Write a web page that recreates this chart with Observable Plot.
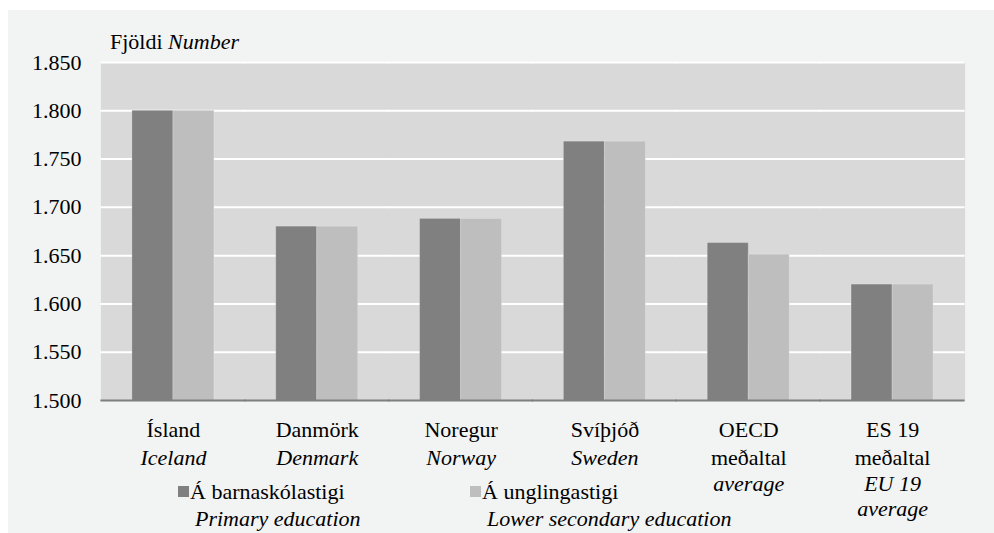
<!DOCTYPE html>
<html>
<head>
<meta charset="utf-8">
<script src="https://cdn.jsdelivr.net/npm/d3@7"></script>
<script src="https://cdn.jsdelivr.net/npm/@observablehq/plot@0.6"></script>
<style>
  html, body { margin: 0; padding: 0; background: #ffffff; }
  #wrap { position: relative; width: 994px; height: 533px; overflow: hidden; font-family: 'Liberation Serif', Tinos, 'Times New Roman', Times, 'Noto Serif', 'DejaVu Serif', FreeSerif, serif; color: #000; }
  #panel { position: absolute; left: 8px; top: 10px; right: 0; bottom: 0; background: #f2f3f3; }
  #chart { position: absolute; left: 0; top: 0; }
  .lbl { position: absolute; font-size: 22px; line-height: 22px; white-space: nowrap; }
  .sw { position: absolute; width: 11px; height: 11px; }
</style>
</head>
<body>
<div id="wrap">
  <div id="panel"></div>
  <div id="chart"></div>
  <div class="lbl" style="left:110px; top:31px;">Fjöldi <i>Number</i></div>
  <div id="legend"></div>
</div>
<script>
// ---- data ----
const categoriesIs = ["Ísland", "Danmörk", "Noregur", "Svíþjóð", "OECD\nmeðaltal", "ES 19\nmeðaltal"];
const categoriesEn = ["Iceland", "Denmark", "Norway", "Sweden", "average", "EU 19\naverage"];
const seriesIs = ["Á barnaskólastigi", "Á unglingastigi"];
const seriesEn = ["Primary education", "Lower secondary education"];
const primary = [1800, 1680, 1688, 1768, 1663, 1620];
const lowerSecondary = [1800, 1680, 1688, 1768, 1651, 1620];
const yTicks = [1500, 1550, 1600, 1650, 1700, 1750, 1800, 1850];
const colors = ["#808080", "#bebebe"];

// ---- build table ----
const rows = [];
categoriesIs.forEach((c, i) => {
  rows.push({cat: c, series: seriesIs[0], value: primary[i]});
  rows.push({cat: c, series: seriesIs[1], value: lowerSecondary[i]});
});

const labelLines = [];
categoriesIs.forEach((c, i) => {
  const isL = c.split("\n");
  const enL = categoriesEn[i].split("\n");
  isL.forEach((t, k) => labelLines.push({cat: c, text: t, line: k, italic: false}));
  enL.forEach((t, k) => labelLines.push({cat: c, text: t, line: isL.length + k, italic: true}));
});
const lineOffsets = [29, 57, 83, 108];

const loc = d3.formatLocale({decimal: ",", thousands: ".", grouping: [3], currency: ["", ""]});
const fmt = loc.format(",");

const FONT = "'Liberation Serif', Tinos, 'Times New Roman', Times, 'Noto Serif', 'DejaVu Serif', FreeSerif, serif";

const labelMarks = [];
for (let L = 0; L < 4; ++L) {
  for (const it of [false, true]) {
    const d = labelLines.filter(r => r.line === L && r.italic === it);
    if (!d.length) continue;
    labelMarks.push(Plot.text(d, {
      fx: "cat", text: "text", frameAnchor: "bottom", dy: lineOffsets[L],
      lineAnchor: "middle", fontSize: 22, fill: "#000", fontFamily: FONT,
      fontStyle: it ? "italic" : "normal"
    }));
  }
}

const chart = Plot.plot({
  width: 994,
  height: 533,
  marginLeft: 101,
  marginRight: 30,
  marginTop: 62,
  marginBottom: 133,
  style: {fontFamily: FONT, fontSize: "22px", background: "transparent", color: "#000", overflow: "visible"},
  fx: {domain: categoriesIs, padding: 0, round: false, axis: null, label: null},
  x: {domain: seriesIs, paddingInner: 0, paddingOuter: 0.754, round: false, axis: null, label: null},
  y: {domain: [1500, 1850], axis: null, label: null},
  color: {domain: seriesIs, range: colors},
  marks: [
    Plot.frame({fill: "#d9d9d9", stroke: null, inset: -0.6}),
    Plot.ruleY(yTicks.filter(v => v > yTicks[0]), {stroke: "#ffffff", strokeWidth: 2, insetLeft: -0.6, insetRight: -0.6}),
    Plot.barY(rows, {fx: "cat", x: "series", y: "value", fill: "series", stroke: "#ffffff", strokeOpacity: 0.2, strokeWidth: 1, clip: true}),
    Plot.ruleY([yTicks[0]], {stroke: "#7f7f7f", strokeWidth: 2, insetLeft: -0.6, insetRight: -0.6}),
    Plot.axisY({ticks: yTicks, tickFormat: fmt, tickSize: 0, tickPadding: 20, fontSize: 22, fill: "#000", fontFamily: FONT, label: null}),
    ...labelMarks
  ]
});
document.getElementById("chart").appendChild(chart);

// ---- legend ----
const legendPos = [{sq: 178, tx: 195}, {sq: 470, tx: 487}];
const legend = document.getElementById("legend");
seriesIs.forEach((s, i) => {
  const sw = document.createElement("div");
  sw.className = "sw";
  sw.style.left = legendPos[i].sq + "px";
  sw.style.top = "486px";
  sw.style.background = colors[i];
  legend.appendChild(sw);
  const t1 = document.createElement("div");
  t1.className = "lbl";
  t1.style.left = (legendPos[i].sq + 12) + "px";
  t1.style.top = "481px";
  t1.textContent = s;
  legend.appendChild(t1);
  const t2 = document.createElement("div");
  t2.className = "lbl";
  t2.style.left = legendPos[i].tx + "px";
  t2.style.top = "508px";
  t2.style.fontStyle = "italic";
  t2.textContent = seriesEn[i];
  legend.appendChild(t2);
});
</script>
</body>
</html>
